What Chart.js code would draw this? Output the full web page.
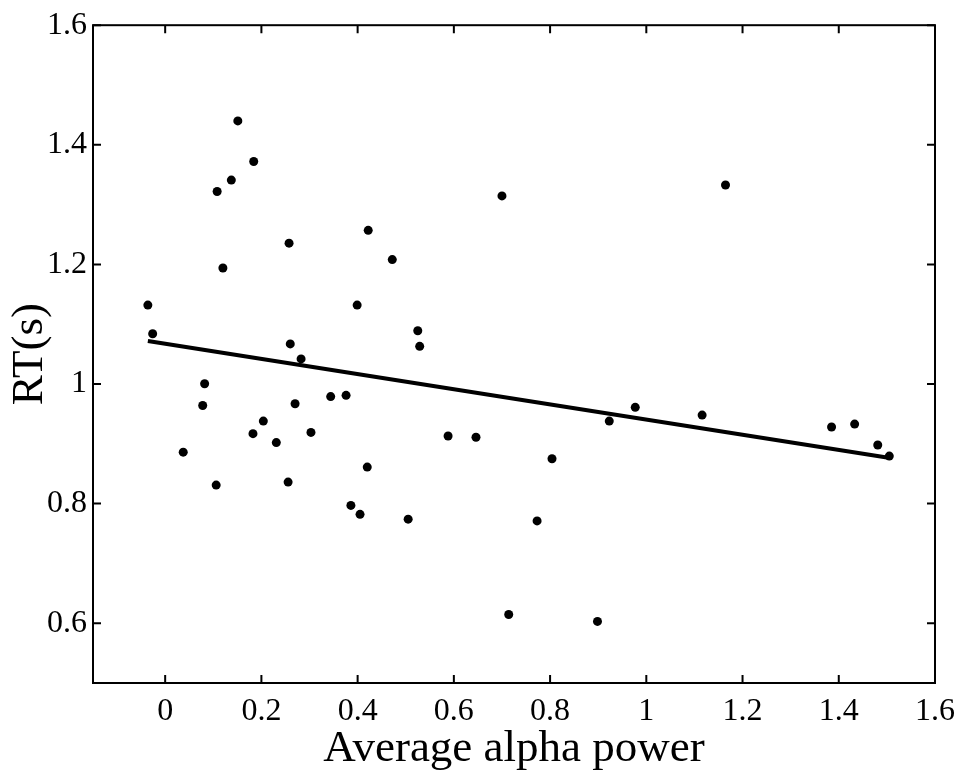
<!DOCTYPE html>
<html>
<head>
<meta charset="utf-8">
<script src="https://cdn.jsdelivr.net/npm/chart.js@4"></script>
<style>
  html, body { margin: 0; padding: 0; background: #fff; }
  #wrap { width: 964px; height: 779px; }
</style>
</head>
<body>
<div id="wrap"><canvas id="rtChart"></canvas></div>
<script>
// alpha power vs reaction time
const alphaPower = [0.151, 0.184, 0.1375, 0.108, 0.2575, 0.422, 0.12, 0.472, -0.036, 0.399,
    -0.026, 0.525, 0.529, 0.26, 0.2825, 0.082, 0.078, 0.27, 0.344, 0.376,
    0.204, 0.1825, 0.231, 0.303, 0.588, 0.646, 0.0375, 0.42, 0.106, 0.2555,
    0.386, 0.405, 0.505, 0.773, 0.714, 0.804, 0.70, 1.1646, 0.8985, 0.923,
    0.977, 1.116, 1.385, 1.433, 1.481, 1.505]
const reactionTime = [1.440, 1.372, 1.341, 1.322, 1.2355, 1.257, 1.194, 1.208, 1.132, 1.132,
    1.084, 1.089, 1.063, 1.067, 1.042, 1.0005, 0.964, 0.967, 0.979, 0.981,
    0.938, 0.917, 0.902, 0.919, 0.913, 0.911, 0.886, 0.861, 0.831, 0.836,
    0.797, 0.782, 0.774, 0.771, 0.6145, 0.875, 1.3145, 1.3328, 0.603, 0.938,
    0.961, 0.948, 0.928, 0.933, 0.898, 0.8795]

// fitted line end points
const fitX = [-0.036, 1.50]
const fitY = [1.072, 0.877]

const xTicks = [0, 0.2, 0.4, 0.6, 0.8, 1, 1.2, 1.4, 1.6]
const yTicks = [0.6, 0.8, 1, 1.2, 1.4, 1.6]

const serif = "'Liberation Serif', 'Times New Roman', serif"

// box around the plot with inward ticks on all sides
const boxPlugin = {
    id: 'box',
    afterDatasetsDraw(chart) {
        const ctx = chart.ctx
        const a = chart.chartArea
        const xs = chart.scales.x
        const ys = chart.scales.y
        const len = 8
        ctx.save()
        ctx.strokeStyle = '#000'
        ctx.lineWidth = 2
        ctx.strokeRect(a.left, a.top, a.right - a.left, a.bottom - a.top)
        ctx.beginPath()
        xTicks.forEach(v => {
            const px = xs.getPixelForValue(v)
            ctx.moveTo(px, a.bottom); ctx.lineTo(px, a.bottom - len)
            ctx.moveTo(px, a.top); ctx.lineTo(px, a.top + len)
        })
        yTicks.forEach(v => {
            const py = ys.getPixelForValue(v)
            ctx.moveTo(a.left, py); ctx.lineTo(a.left + len, py)
            ctx.moveTo(a.right, py); ctx.lineTo(a.right - len, py)
        })
        ctx.stroke()
        ctx.restore()
    }
}

const points = alphaPower.map((v, i) => ({ x: v, y: reactionTime[i] }))
const fitLine = fitX.map((v, i) => ({ x: v, y: fitY[i] }))

const config = {
    type: 'scatter',
    data: {
        datasets: [
            {
                label: 'fit',
                type: 'line',
                data: fitLine,
                borderColor: '#000',
                borderWidth: 4,
                pointRadius: 0,
                fill: false
            },
            {
                label: 'subjects',
                data: points,
                backgroundColor: '#000',
                borderColor: '#000',
                pointRadius: 4.5,
                borderWidth: 0
            }
        ]
    },
    options: {
        responsive: true,
        maintainAspectRatio: false,
        animation: false,
        layout: { padding: { left: 0, top: 20, right: 29, bottom: 0 } },
        plugins: {
            legend: { display: false },
            tooltip: { enabled: false }
        },
        scales: {
            x: {
                type: 'linear',
                min: -0.15,
                max: 1.6,
                grid: { display: false, drawTicks: false },
                border: { display: false },
                afterBuildTicks: s => { s.ticks = xTicks.map(v => ({ value: v })) },
                afterFit: s => { s.height = 96 },
                ticks: {
                    color: '#000',
                    padding: 9,
                    maxRotation: 0,
                    font: { family: serif, size: 32 },
                    callback: v => String(v)
                },
                title: {
                    display: true,
                    text: 'Average alpha power',
                    color: '#000',
                    padding: { top: 0, bottom: 3 },
                    font: { family: serif, size: 45 }
                }
            },
            y: {
                type: 'linear',
                min: 0.5,
                max: 1.6,
                grid: { display: false, drawTicks: false },
                border: { display: false },
                afterBuildTicks: s => { s.ticks = yTicks.map(v => ({ value: v })) },
                afterFit: s => { s.width = 93 },
                ticks: {
                    color: '#000',
                    padding: 6,
                    font: { family: serif, size: 32 },
                    callback: v => String(v)
                },
                title: {
                    display: true,
                    text: 'RT(s)',
                    color: '#000',
                    padding: { top: 3, bottom: 0 },
                    font: { family: serif, size: 45 }
                }
            }
        }
    },
    plugins: [boxPlugin]
}

const ctxRT = document.getElementById('rtChart').getContext('2d')
new Chart(ctxRT, config)
</script>
</body>
</html>
